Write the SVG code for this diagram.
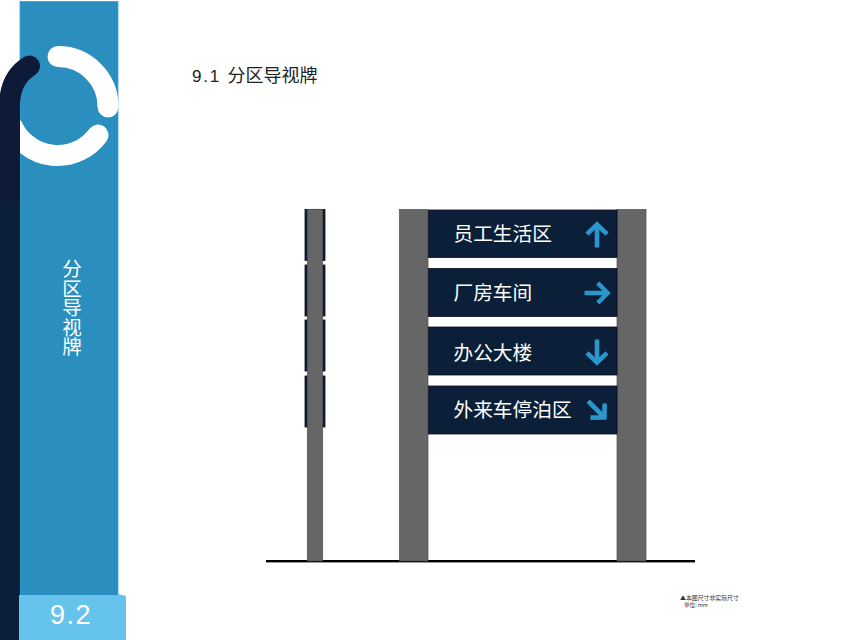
<svg xmlns="http://www.w3.org/2000/svg" width="853" height="640" viewBox="0 0 853 640">
<style>
text{font-family:"Liberation Sans","Noto Sans CJK SC",sans-serif}
.cn{font-family:"Noto Sans CJK SC","Liberation Sans",sans-serif}
.post{fill:#676666;stroke:#4d4d4d;stroke-width:.7}
.panel{fill:#0b1f38;stroke:#080c20;stroke-width:.8}
.sign{fill:#fff;font-size:19.700px}
.ring{fill:none;stroke:#fff;stroke-width:21;stroke-linecap:round}
.arr{fill:none;stroke:#2a96cc;stroke-width:4.600;stroke-linejoin:miter}
</style>
<defs>
<g id="arrow"><path class="arr" d="M0 12.500V-11M-10 -0.800L0 -10.500L10 -0.800"/></g>
</defs>
<rect width="853" height="640" fill="#fff"/>
<g id="sidebar">
<rect x="20" y="1.500" width="98" height="600" fill="#2a8fbf" stroke="#3aa0d2" stroke-width=".8"/>
<path class="ring" d="M58 56.500A50 50 0 0 1 108 107"/>
<path class="ring" d="M98 135A50 50 0 0 1 12 126"/>
<path d="M9.500 641V105Q10 78 29.500 66" fill="none" stroke="#0d1a38" stroke-width="21" stroke-linecap="round"/>
<rect x="0" y="200" width="19" height="440" fill="#0b1f38"/>
<path d="M118 594L126 596V640H19V595H118Z" fill="#66c4ec"/>
<text x="71" y="624" font-size="27" fill="#fff" text-anchor="middle" letter-spacing="1.500">9.2</text>
<text class="cn" x="72" y="259" font-size="19.500" fill="#fff" style="writing-mode:vertical-rl;text-orientation:upright">分区导视牌</text>
</g>
<text id="title" x="192" y="82" font-size="17" fill="#222"><tspan letter-spacing="1.800">9.1 </tspan><tspan class="cn" font-size="18">分区导视牌</tspan></text>
<g id="ground"><rect x="266" y="560" width="429" height="2.400" fill="#000"/></g>
<g id="side-view">
<rect class="panel" x="305" y="209.500" width="20" height="51"/>
<rect class="panel" x="305" y="265" width="20" height="51"/>
<rect class="panel" x="305" y="320" width="20" height="51"/>
<rect class="panel" x="305" y="376" width="20" height="51"/>
<rect class="post" x="307.300" y="209.300" width="15.400" height="351.700"/>
</g>
<g id="front-view">
<rect class="post" x="399.500" y="209.500" width="28.500" height="351.500"/>
<rect class="post" x="617" y="209.500" width="29" height="351.500"/>
</g>
<g id="sign-1">
<rect class="panel" x="428.500" y="210" width="188.500" height="47.500"/>
<text class="cn sign" x="453.500" y="241">员工生活区</text>
<use href="#arrow" transform="translate(597 235)"/>
</g>
<g id="sign-2">
<rect class="panel" x="428.500" y="268.500" width="188.500" height="48"/>
<text class="cn sign" x="453.500" y="299.500">厂房车间</text>
<use href="#arrow" transform="translate(597 293) rotate(90)"/>
</g>
<g id="sign-3">
<rect class="panel" x="428.500" y="327" width="188.500" height="48"/>
<text class="cn sign" x="453.500" y="360">办公大楼</text>
<use href="#arrow" transform="translate(597 352) rotate(180)"/>
</g>
<g id="sign-4">
<rect class="panel" x="428.500" y="386" width="188.500" height="48"/>
<text class="cn sign" x="453.500" y="417">外来车停泊区</text>
<use href="#arrow" transform="translate(597 410) rotate(135)"/>
</g>
<g id="note" fill="#333">
<text class="cn" x="680" y="600" font-size="5.900">▲本图尺寸非实际尺寸</text>
<text class="cn" x="684" y="607" font-size="5.500">单位: mm</text>
</g>
</svg>
